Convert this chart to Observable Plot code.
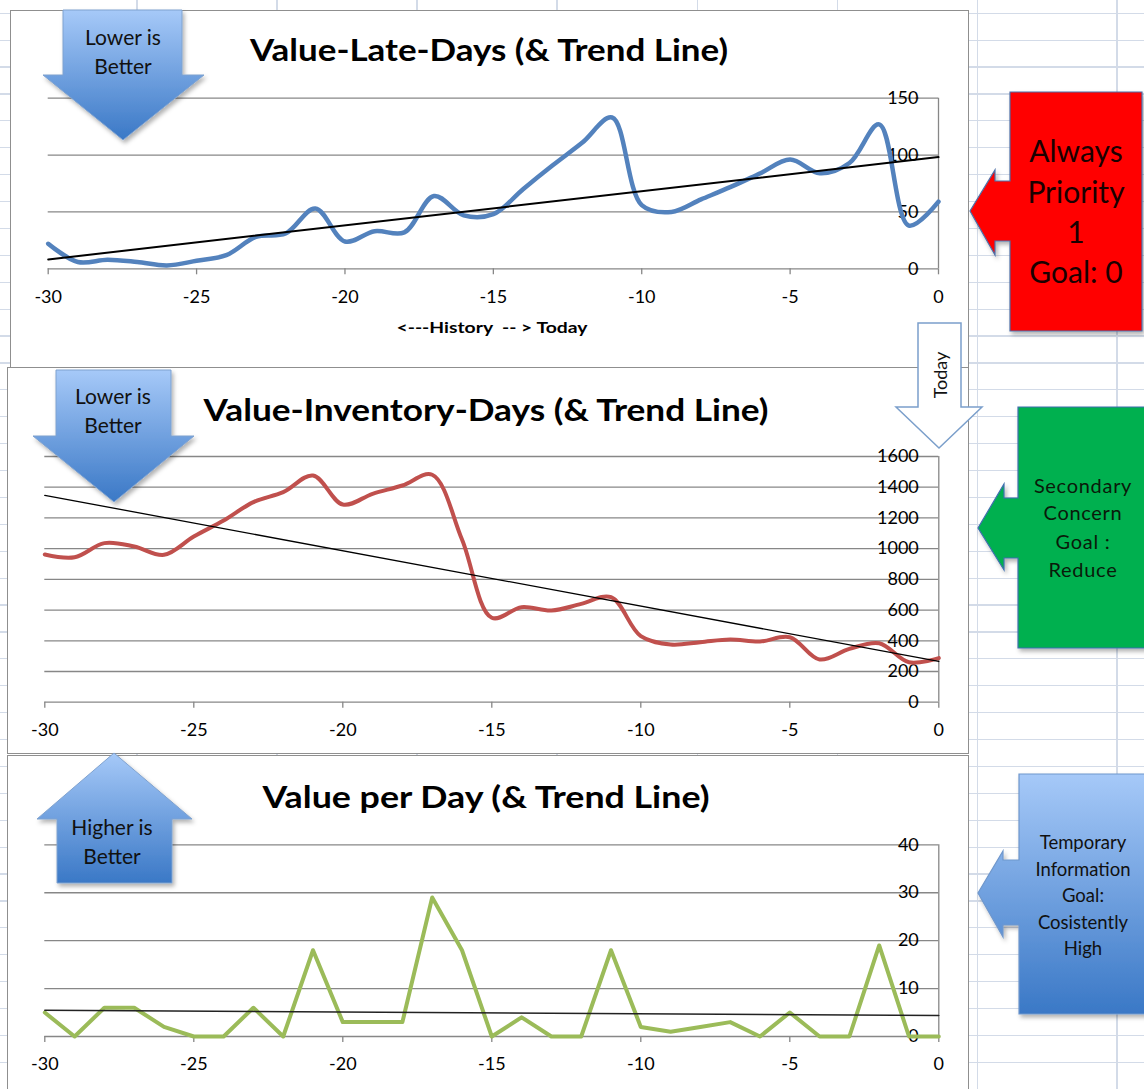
<!DOCTYPE html>
<html><head><meta charset="utf-8">
<script src="https://cdn.jsdelivr.net/npm/d3@7"></script>
<script src="https://cdn.jsdelivr.net/npm/@observablehq/plot@0.6"></script>
<style>
html,body{margin:0;padding:0;background:#fff;}
#page{position:relative;width:1144px;height:1089px;overflow:hidden;background-color:#fff;
 background-image:
  repeating-linear-gradient(to bottom, transparent 0px, transparent 12.6px, #d3dbe8 12.6px, #d3dbe8 13.8px, transparent 13.8px, transparent 26.9px),
  repeating-linear-gradient(to right, transparent 0px, transparent 136.5px, #d3dbe8 136.5px, #d3dbe8 137.8px, transparent 137.8px, transparent 140px);}
.box{position:absolute;background:#fff;border:1.5px solid #8f8f8f;box-sizing:border-box;}
.plot{position:absolute;}
#overlay{position:absolute;left:0;top:0;}
</style>
</head><body>
<div id="page">
  <div class="box" style="left:10px;top:10px;width:959px;height:358px"></div>
  <div class="box" style="left:7px;top:367px;width:962px;height:387px"></div>
  <div class="box" style="left:7px;top:755px;width:962px;height:345px"></div>
  <div class="plot" id="c1" style="left:10px;top:10px;width:958px;height:357px"></div>
  <div class="plot" id="c2" style="left:8px;top:367px;width:960px;height:386px"></div>
  <div class="plot" id="c3" style="left:8px;top:755px;width:960px;height:334px"></div>
  <svg id="overlay" width="1144" height="1089" viewBox="0 0 1144 1089">
    <defs>
      <linearGradient id="blueG" x1="0" y1="0" x2="0" y2="1">
        <stop offset="0" stop-color="#a6c9f8"/><stop offset="1" stop-color="#3a78c6"/>
      </linearGradient>
      <filter id="sh" x="-20%" y="-20%" width="150%" height="150%">
        <feDropShadow dx="2" dy="3" stdDeviation="2" flood-color="#000" flood-opacity="0.3"/>
      </filter>
    </defs>
    <g font-family="Lato, sans-serif" fill="#000">
      <text x="489" y="61" font-size="30" font-weight="bold" text-anchor="middle" textLength="478" lengthAdjust="spacingAndGlyphs">Value-Late-Days (&amp; Trend Line)</text>
      <text x="486" y="421" font-size="30" font-weight="bold" text-anchor="middle" textLength="565" lengthAdjust="spacingAndGlyphs">Value-Inventory-Days (&amp; Trend Line)</text>
      <text x="486" y="808" font-size="30" font-weight="bold" text-anchor="middle" textLength="447" lengthAdjust="spacingAndGlyphs">Value per Day (&amp; Trend Line)</text>
      <text x="492" y="333" font-size="15" font-weight="bold" text-anchor="middle" style="white-space:pre" textLength="191" lengthAdjust="spacingAndGlyphs">&lt;---History  -- &gt; Today</text>
    </g>
    <!-- Lower / Higher is better arrows -->
    <polygon points="63,10 182,10 182,75 204,75 123,140 43,75 63,75" fill="url(#blueG)" stroke="#7fa2cf" stroke-width="1" filter="url(#sh)"/>
    <polygon points="56,370 171,370 171,436 194,436 114,502 33,436 56,436" fill="url(#blueG)" stroke="#7fa2cf" stroke-width="1" filter="url(#sh)"/>
    <polygon points="114,753 192,819 172,819 172,883 57,883 57,819 37,819" fill="url(#blueG)" stroke="#7fa2cf" stroke-width="1" filter="url(#sh)"/>
    <g font-family="Lato, sans-serif" fill="#111" font-size="21" text-anchor="middle">
      <text x="123" y="38" dy="0.35em">Lower is</text>
      <text x="123" y="67" dy="0.35em">Better</text>
      <text x="113" y="397" dy="0.35em">Lower is</text>
      <text x="113" y="426" dy="0.35em">Better</text>
      <text x="112" y="828" dy="0.35em">Higher is</text>
      <text x="112" y="857" dy="0.35em">Better</text>
    </g>
    <!-- Today arrow -->
    <polygon points="918,323 961,323 961,407 982,407 939,448 896,407 918,407" fill="#fff" stroke="#7b9fcb" stroke-width="1.5"/>
    <text transform="translate(941,375) rotate(-90)" text-anchor="middle" dy="0.35em" font-family="Lato, sans-serif" font-size="18" fill="#111">Today</text>
    <!-- callouts -->
    <polygon points="1010,92 1142,92 1142,331 1010,331 1010,241 995,241 995,255 970,211 995,170 995,181 1010,181" fill="#ff0000" stroke="#4d6fa8" stroke-width="1.2" filter="url(#sh)"/>
    <g font-family="Lato, sans-serif" fill="#1a0000" font-size="30" text-anchor="middle">
      <text x="1076" y="151" dy="0.35em">Always</text>
      <text x="1076" y="192" dy="0.35em">Priority</text>
      <text x="1076" y="232" dy="0.35em">1</text>
      <text x="1076" y="272" dy="0.35em">Goal: 0</text>
    </g>
    <polygon points="1018,407 1150,407 1150,648 1018,648 1018,558 1004,558 1004,570 978,528 1004,484 1004,498 1018,498" fill="#00b050" stroke="#3f6fae" stroke-width="1.2" filter="url(#sh)"/>
    <g font-family="Lato, sans-serif" fill="#0a1a0a" font-size="20" text-anchor="middle" letter-spacing="0.7">
      <text x="1083" y="486" dy="0.35em">Secondary</text>
      <text x="1083" y="513" dy="0.35em">Concern</text>
      <text x="1083" y="542" dy="0.35em">Goal :</text>
      <text x="1083" y="570" dy="0.35em">Reduce</text>
    </g>
    <polygon points="1019,774 1150,774 1150,1014 1019,1014 1019,925 1003,925 1003,937 978,893 1003,851 1003,860 1019,860" fill="url(#blueG)" stroke="#6f97cc" stroke-width="1.2" filter="url(#sh)"/>
    <g font-family="Lato, sans-serif" fill="#111" font-size="18.5" text-anchor="middle">
      <text x="1083" y="843" dy="0.35em">Temporary</text>
      <text x="1083" y="870" dy="0.35em">Information</text>
      <text x="1083" y="896" dy="0.35em">Goal:</text>
      <text x="1083" y="923" dy="0.35em">Cosistently</text>
      <text x="1083" y="949" dy="0.35em">High</text>
    </g>
  </svg>
</div>
<script>
const days = [-30,-29,-28,-27,-26,-25,-24,-23,-22,-21,-20,-19,-18,-17,-16,-15,-14,-13,-12,-11,-10,-9,-8,-7,-6,-5,-4,-3,-2,-1,0];
const lateDays = [22,6,8,6,3,7,12,28,31,53,24,33,32,64,47,48,70,91,111,133,56,50,61,72,84,96,84,93,127,38,59];
const inventoryDays = [962,944,1036,1014,960,1079,1183,1303,1368,1476,1287,1357,1411,1481,1060,550,619,597,640,684,430,376,391,408,395,423,278,347,384,260,287];
const valuePerDay = [5,0,6,6,2,0,0,6,0,18,3,3,3,29,18,0,4,0,0,18,2,1,2,3,0,5,0,0,19,0,0];
const xTicks = [-30,-25,-20,-15,-10,-5,0];
const lateTicks = [0,50,100,150];
const invTicks = [0,200,400,600,800,1000,1200,1400,1600];
const vpdTicks = [0,10,20,30,40];

function makeChart(values, o) {
  const rows = days.map((d, i) => ({day: d, v: values[i]}));
  return Plot.plot({
    width: o.w, height: o.h,
    marginLeft: o.ml, marginRight: o.mr, marginTop: o.mt, marginBottom: o.mb,
    x: {domain: [-30, 0], label: null},
    y: {domain: o.domain, label: null},
    style: {background: "transparent", fontFamily: "Lato, sans-serif", fontSize: "18px", color: "#000", overflow: "visible"},
    marks: [
      Plot.gridY(o.ticks, {stroke: "#878787", strokeOpacity: 1, strokeWidth: 1.3}),
      Plot.ruleX([0], {stroke: "#878787", strokeWidth: 1.3}),
      Plot.axisX(xTicks, {anchor: "bottom", label: null, tickSize: 6, tickPadding: 22, lineAnchor: "middle", tickFormat: d => String(d), stroke: "#878787", strokeWidth: 1.3, fill: "#000", fontSize: 18}),
      Plot.axisY(o.ticks, {anchor: "right", label: null, tickSize: 4, tickPadding: 0, textAnchor: "end", dx: -24, tickFormat: d => String(d), stroke: "#878787", strokeWidth: 1.3, fill: "#000", fontSize: 18}),
      Plot.lineY(rows, {x: "day", y: "v", stroke: o.color, strokeWidth: o.sw, curve: o.curve}),
      Plot.linearRegressionY(rows, {x: "day", y: "v", ci: 0, stroke: o.tc, strokeWidth: o.tw})
    ]
  });
}

document.getElementById("c1").append(makeChart(lateDays, {
  w: 958, h: 357, ml: 37.7, mr: 30, mt: 87.7, mb: 98.7,
  domain: [0, 150], ticks: lateTicks, color: "#5382bd", sw: 4.5, curve: "catmull-rom", tc: "#000", tw: 2
}));
document.getElementById("c2").append(makeChart(inventoryDays, {
  w: 960, h: 386, ml: 36.3, mr: 29.7, mt: 89, mb: 51.3,
  domain: [0, 1600], ticks: invTicks, color: "#c0504d", sw: 4, curve: "catmull-rom", tc: "#000", tw: 1.3
}));
document.getElementById("c3").append(makeChart(valuePerDay, {
  w: 960, h: 334, ml: 36.3, mr: 29.7, mt: 89.3, mb: 53,
  domain: [0, 40], ticks: vpdTicks, color: "#9bbb59", sw: 4, curve: "linear", tc: "#222", tw: 1.5
}));
</script>
</body></html>
